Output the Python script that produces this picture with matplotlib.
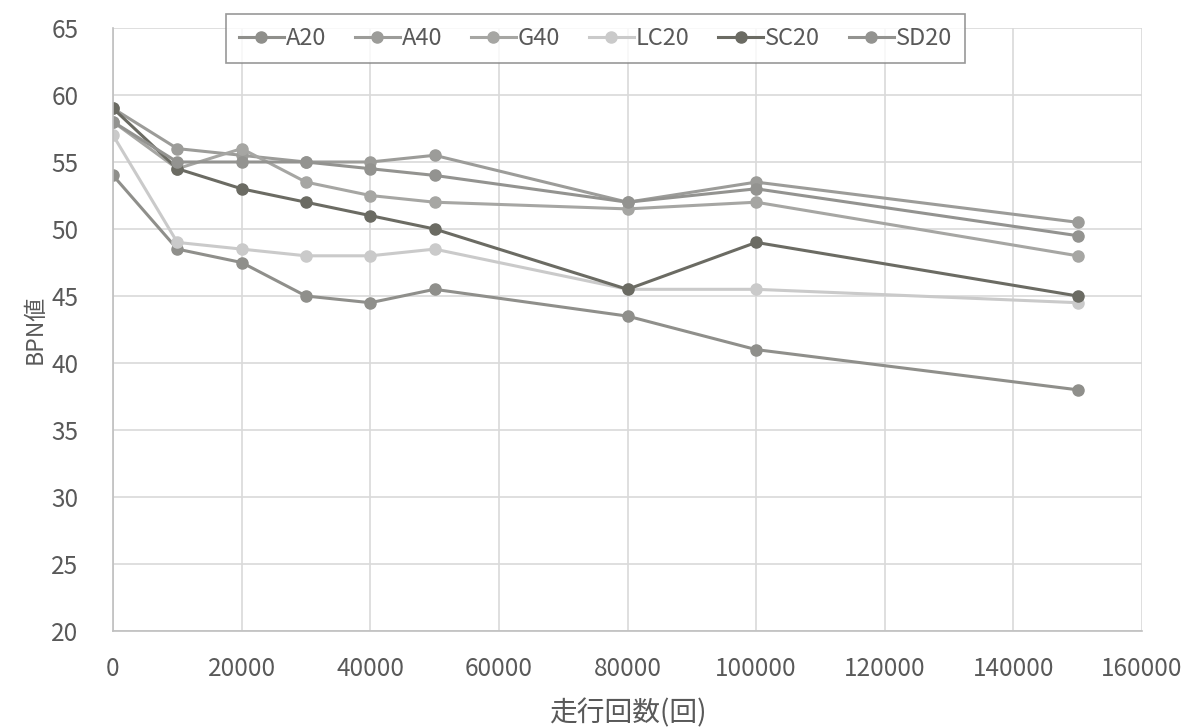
import matplotlib
matplotlib.use('Agg')
import matplotlib.pyplot as plt

plt.rcParams['font.family'] = ['Noto Sans CJK JP', 'DejaVu Sans']

# running count (x) and BPN values per sample
runs = [0, 10000, 20000, 30000, 40000, 50000, 80000, 100000, 150000]
a20 = [54, 48.5, 47.5, 45, 44.5, 45.5, 43.5, 41, 38]
a40 = [59, 56, 55.5, 55, 55, 55.5, 52, 53.5, 50.5]
g40 = [58, 54.5, 56, 53.5, 52.5, 52, 51.5, 52, 48]
lc20 = [57, 49, 48.5, 48, 48, 48.5, 45.5, 45.5, 44.5]
sc20 = [59, 54.5, 53, 52, 51, 50, 45.5, 49, 45]
sd20 = [58, 55, 55, 55, 54.5, 54, 52, 53, 49.5]

series = [('A20', a20, '#8f8f8b'),
          ('A40', a40, '#9c9c99'),
          ('G40', g40, '#a6a6a3'),
          ('LC20', lc20, '#cacaca'),
          ('SC20', sc20, '#6b6b63'),
          ('SD20', sd20, '#939390')]

text_color = '#595959'

fig = plt.figure(figsize=(11.91, 7.27), dpi=100)
ax = fig.add_axes([0.0949, 0.132, 0.864, 0.8295])

for name, vals, col in series:
    ax.plot(runs, vals, color=col, lw=2.2, marker='o', markersize=8,
            label=name)

ax.set_xlim(0, 160000)
ax.set_ylim(20, 65)
ax.set_xticks(range(0, 160001, 20000))
ax.set_yticks(range(20, 66, 5))
ax.grid(True, color='#d9d9d9', lw=1.2)
ax.set_axisbelow(True)
for side in ['top', 'right']:
    ax.spines[side].set_visible(False)
for side in ['left', 'bottom']:
    ax.spines[side].set_color('#bfbfbf')
    ax.spines[side].set_linewidth(1.2)
ax.tick_params(length=0, labelsize=17.5, colors=text_color)
ax.tick_params(axis='x', pad=18)
ax.tick_params(axis='y', pad=25)

ax.set_xlabel('走行回数(回)', fontsize=20, color=text_color, labelpad=12)
ax.set_ylabel('BPN値', fontsize=16.5, color=text_color, labelpad=3)

leg = fig.legend(loc='upper center', bbox_to_anchor=(0.5, 0.997), ncol=6,
                 fontsize=17, frameon=True, fancybox=False,
                 handlelength=1.9, handletextpad=0.1, columnspacing=1.2,
                 borderpad=0.55, labelcolor=text_color)
leg.get_frame().set_edgecolor('#7f7f7f')
leg.get_frame().set_linewidth(1.2)

fig.savefig('out.png', dpi=100, facecolor='white')
